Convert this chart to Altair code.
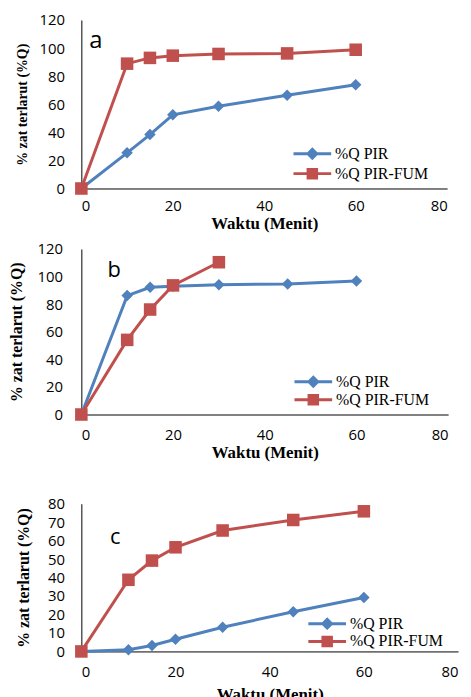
import altair as alt
import pandas as pd

# ---- data ----
series = ["%Q PIR", "%Q PIR-FUM"]
time_all = [0, 10, 15, 20, 30, 45, 60]

a_pir = [0, 25.4, 38.4, 52.5, 58.6, 66.4, 73.9]
a_fum = [0, 88.9, 93.0, 94.6, 95.8, 96.2, 98.8]

b_pir = [0, 86.2, 92.2, 93.0, 94.1, 94.6, 96.8]
b_fum_time = [0, 10, 15, 20, 30]
b_fum = [0, 54.1, 76.1, 93.6, 110.4]

c_pir = [0, 0.9, 3.2, 6.6, 13.1, 21.5, 29.2]
c_fum = [0, 38.8, 49.2, 56.4, 65.5, 71.2, 75.9]

x_ticks = [0, 20, 40, 60, 80]
y_ticks_ab = [0, 20, 40, 60, 80, 100, 120]
y_ticks_c = [0, 10, 20, 30, 40, 50, 60, 70, 80]

panel_letters = ["a", "b", "c"]
letter_pos = [(1.7, 100.0), (5.7, 100.0), (6.1, 58.0)]

x_title = "Waktu (Menit)"
y_title = "% zat terlarut (%Q)"

BLUE = "#4F81BD"
RED = "#C0504D"
SANS = "Open Sans"
SERIF = "Liberation Serif"

# legend symbols: line sample + marker (custom SVG paths)
LEG_DIAMOND = ("M-4.429,-0.214H1V0.214H-4.429Z "
               "M-1.714,-0.929L-0.786,0L-1.714,0.929L-2.643,0Z")
LEG_SQUARE = ("M-4.429,-0.214H1V0.214H-4.429Z "
              "M-2.543,-0.829H-0.886V0.829H-2.543Z")


def panel(pir_t, pir_v, fum_t, fum_v, ymax, yticks, letter, lpos,
          w, h, ylab_pad, ytitle_pad, ytitle_size, xlab_pad, xtitle_pad,
          leg_x, leg_y, leg_row, letter_size):
    df = pd.DataFrame({
        "t": list(pir_t) + list(fum_t),
        "v": list(pir_v) + list(fum_v),
        "series": [series[0]] * len(pir_t) + [series[1]] * len(fum_t),
    })
    base = alt.Chart(df)
    x = alt.X("t:Q", scale=alt.Scale(domain=[0, 80], nice=False),
              axis=alt.Axis(values=x_ticks, title=x_title, labelPadding=xlab_pad,
                            titlePadding=xtitle_pad, titleFontSize=17))
    y = alt.Y("v:Q", scale=alt.Scale(domain=[0, ymax], nice=False),
              axis=alt.Axis(values=yticks, title=y_title, labelPadding=ylab_pad,
                            titlePadding=ytitle_pad, titleFontSize=ytitle_size))

    pir = base.transform_filter(alt.datum.series == series[0])
    fum = base.transform_filter(alt.datum.series == series[1])

    leg = alt.Legend(title=None, orient="none", legendX=leg_x, legendY=leg_y,
                     labelFont=SERIF, labelFontSize=16, labelColor="#000000",
                     symbolSize=196, symbolStrokeWidth=0, rowPadding=leg_row,
                     labelOffset=3, padding=0)
    legend_layer = base.transform_filter("false").mark_point(
        filled=True, opacity=1, strokeWidth=0
    ).encode(
        x=x, y=y,
        color=alt.Color("series:N", scale=alt.Scale(domain=series, range=[BLUE, RED]),
                        legend=leg),
        shape=alt.Shape("series:N",
                        scale=alt.Scale(domain=series, range=[LEG_DIAMOND, LEG_SQUARE]),
                        legend=leg),
    )

    line_p = pir.mark_line(strokeWidth=3, color=BLUE).encode(x=x, y=y)
    line_f = fum.mark_line(strokeWidth=3, color=RED).encode(x=x, y=y)
    dia = pir.mark_point(shape="diamond", filled=True, opacity=1, size=135,
                         strokeWidth=0, color=BLUE).encode(x=x, y=y)
    sq = fum.mark_point(shape="square", filled=True, opacity=1, size=160,
                        strokeWidth=0, color=RED).encode(x=x, y=y)

    ldf = pd.DataFrame({"t": [lpos[0]], "v": [lpos[1]], "lab": [letter]})
    txt = alt.Chart(ldf).mark_text(
        font=SANS, fontSize=letter_size, align="left", baseline="alphabetic",
        color="#000000"
    ).encode(x=x, y=y, text="lab:N")

    return alt.layer(legend_layer, line_p, line_f, dia, sq, txt).properties(
        width=w, height=h)


pa = panel(time_all, a_pir, time_all, a_fum, 120, y_ticks_ab, panel_letters[0],
           letter_pos[0], 369, 170, 17, 10, 14, 10, 2, 237, 127, 4, 24)
pb = panel(time_all, b_pir, b_fum_time, b_fum, 120, y_ticks_ab, panel_letters[1],
           letter_pos[1], 370, 167, 19, 13, 16, 13, 2, 238, 126, 2, 22)
pc = panel(time_all, c_pir, time_all, c_fum, 80, y_ticks_c, panel_letters[2],
           letter_pos[2], 380, 149, 17, 16, 16, 13, 7, 252, 113, 2, 22)

top = alt.vconcat(pa, pb, spacing=11).resolve_scale(color="independent", shape="independent")
chart = alt.vconcat(
    top, pc, spacing=37
).resolve_scale(
    color="independent", shape="independent"
).properties(
    padding={"left": 0, "top": 2, "right": 5, "bottom": 5}
).configure_view(
    strokeWidth=0
).configure_axis(
    grid=False, ticks=False, tickSize=0, domainColor="#000000", domainWidth=1,
    labelFont=SANS, labelFontSize=15, labelColor="#000000",
    titleFont=SERIF, titleFontWeight="bold", titleColor="#000000",
)

chart.save("out.html", embed_options={"renderer": "svg", "actions": False})
